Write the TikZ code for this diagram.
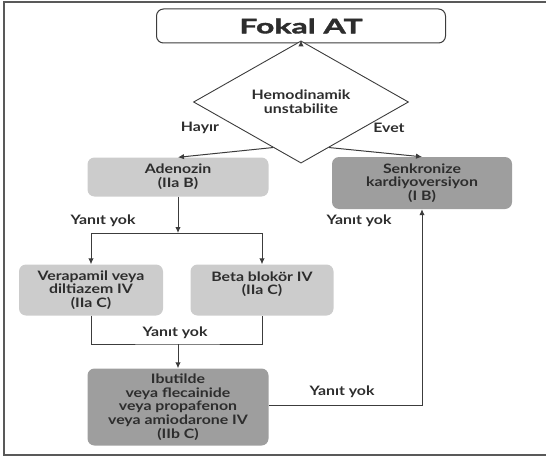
\documentclass[tikz,border=0pt]{standalone}
\usepackage{fontspec}
\setmainfont{Lato}[FakeStretch=1.22]
\newfontfamily\titlefont{Lato}[FakeStretch=1.6,FakeBold=1.8]
\usetikzlibrary{arrows.meta,positioning,shapes.geometric,calc}
\definecolor{boxlight}{RGB}{204,204,204}
\definecolor{boxdark}{RGB}{158,158,158}
\definecolor{lineg}{RGB}{60,60,60}
\definecolor{textg}{RGB}{45,45,45}

\begin{document}
\begin{tikzpicture}[x=1pt,y=-1pt,
    every node/.style={font=\fontsize{13}{13.8}\selectfont\bfseries,text=textg,align=center},
    startbox/.style={draw=lineg,line width=1pt,rounded corners=7pt,fill=white,minimum width=289pt,minimum height=34pt,inner sep=0pt},
    decision/.style={diamond,draw=lineg,line width=0.9pt,fill=white,minimum width=215pt,minimum height=60pt,inner sep=0pt},
    lightbox/.style={fill=boxlight,rounded corners=7pt,inner sep=0pt},
    darkbox/.style={fill=boxdark,rounded corners=7pt,inner sep=0pt},
    conn/.style={draw=lineg,line width=1pt},
    arr/.style={conn,-{Latex[length=6pt,width=5.5pt]}}]
      \useasboundingbox (0,0) rectangle (546,460);
      % Frame
      \draw[black!65,line width=1.6pt] (548,2) -- (4,2) -- (4,455) -- (548,455);
      % Boxes
      \node[startbox] (fokal) at (301,26) {\titlefont\fontsize{20}{22}\selectfont\bfseries Fokal AT};
      \node[decision] (hemo) at (301,102) {Hemodinamik\\unstabilite};
      \node[lightbox,minimum width=181pt,minimum height=39pt] (adeno) at (178,177) {Adenozin\\(IIa B)};
      \node[darkbox,minimum width=180pt,minimum height=52pt] (senk) at (422,183) {Senkronize\\kardiyoversiyon\\(I B)};
      \node[lightbox,minimum width=144pt,minimum height=51pt] (vera) at (91,290) {Verapamil veya\\diltiazem IV\\(IIa C)};
      \node[lightbox,minimum width=143pt,minimum height=51pt] (beta) at (262,290) {Beta blokör IV\\(IIa C)\\~};
      \node[darkbox,minimum width=181pt,minimum height=77pt] (ibut) at (178,407) {Ibutilde\\veya flecainide\\veya propafenon\\veya amiodarone IV\\(IIb C)};
      % Connectors
      \coordinate (split) at (178,233);
      \coordinate (merge) at (178,344);
      \draw[arr] (fokal.south) -- (hemo.north);
      \draw[arr] ($(hemo.west)!0.74!(hemo.south)$) -- (adeno.north);
      \draw[arr] ($(hemo.south)!0.26!(hemo.east)$) -- (senk.north);
      \draw[arr] (adeno.south) -- (split);
      \draw[arr] (split) -| (vera.north);
      \draw[arr] (split) -| (beta.north);
      \draw[conn] (vera.south) |- (merge) -| (beta.south);
      \draw[arr] (merge) -- (ibut.north);
      \draw[arr] (ibut.east |- 0,405) -| (senk.south);
      % Labels
      \node (hayir) at (200,128) {Hayır};
      \node (evet) at (389,128) {Evet};
      \node (yy1) at (103,221) {Yanıt yok};
      \node (yy2) at (359,221) {Yanıt yok};
      \node (yy3) at (175,333) {Yanıt yok};
      \node (yy4) at (342,392) {Yanıt yok};
    \end{tikzpicture}
\end{document}
